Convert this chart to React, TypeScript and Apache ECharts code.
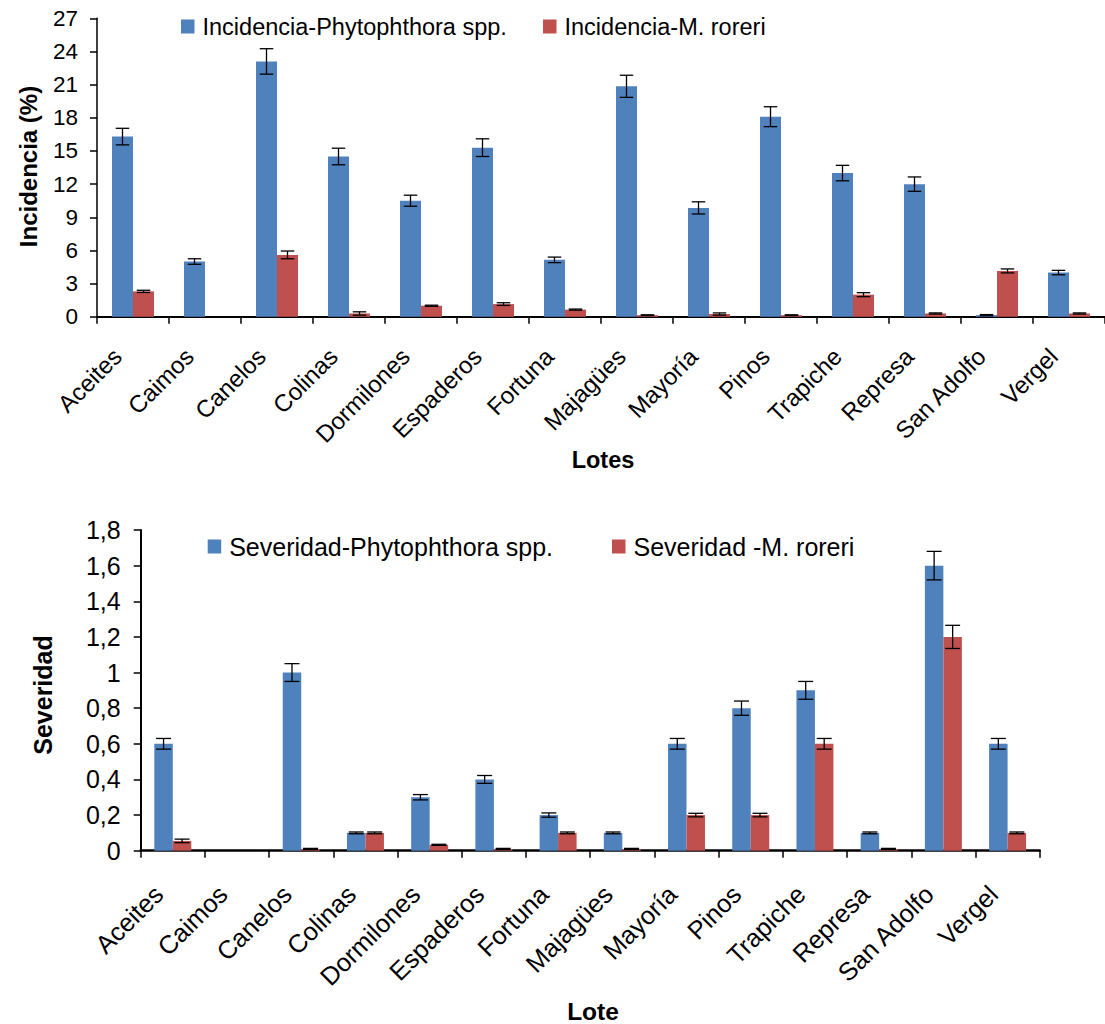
import React, { useEffect, useRef } from "react";
import * as echarts from "echarts";

const categories = ["Aceites", "Caimos", "Canelos", "Colinas", "Dormilones", "Espaderos", "Fortuna", "Majagües", "Mayoría", "Pinos", "Trapiche", "Represa", "San Adolfo", "Vergel"];

const incPhyt = [16.3, 5.0, 23.1, 14.5, 10.5, 15.3, 5.15, 20.85, 9.85, 18.1, 13.0, 12.0, 0.15, 4.0];
const incPhytErr = [0.75, 0.25, 1.15, 0.75, 0.5, 0.8, 0.25, 1.0, 0.55, 0.9, 0.7, 0.65, 0.05, 0.2];
const incMror = [2.3, 0, 5.6, 0.3, 1.0, 1.15, 0.65, 0.15, 0.25, 0.15, 2.0, 0.3, 4.15, 0.3];
const incMrorErr = [0.1, 0, 0.35, 0.15, 0.05, 0.12, 0.05, 0.03, 0.1, 0.03, 0.18, 0.05, 0.18, 0.05];

const sevPhyt = [0.6, 0, 1.0, 0.1, 0.3, 0.4, 0.2, 0.1, 0.6, 0.8, 0.9, 0.1, 1.6, 0.6];
const sevPhytErr = [0.03, 0, 0.05, 0.005, 0.015, 0.022, 0.012, 0.005, 0.03, 0.04, 0.05, 0.005, 0.08, 0.03];
const sevMror = [0.055, 0, 0.01, 0.1, 0.033, 0.01, 0.1, 0.01, 0.2, 0.2, 0.6, 0.01, 1.2, 0.1];
const sevMrorErr = [0.01, 0, 0.003, 0.005, 0.003, 0.003, 0.005, 0.003, 0.01, 0.01, 0.03, 0.003, 0.065, 0.005];

const incTicks = { min: 0, max: 27, interval: 3 };
const sevTicks = { min: 0, max: 1.8, interval: 0.2 };

const BLUE = "#4F81BD";
const RED = "#C0504D";
const FONT = "Liberation Sans, Arial, sans-serif";

const names = {
  incP: "Incidencia-Phytophthora spp.",
  incM: "Incidencia-M. roreri",
  sevP: "Severidad-Phytophthora spp.",
  sevM: "Severidad -M. roreri",
};

function errSeries(name: string, vals: number[], errs: number[], gridIdx: number, offset: number, capW: number) {
  return {
    type: "custom",
    name,
    xAxisIndex: gridIdx,
    yAxisIndex: gridIdx,
    z: 5,
    encode: { x: 0, y: 1 },
    data: vals.map((v, i) => [i, v, errs[i]]),
    renderItem: (params: any, api: any) => {
      const idx = api.value(0);
      const v = api.value(1);
      const e = api.value(2);
      if (v === 0 && e === 0) return { type: "group", children: [] };
      const c = api.coord([idx, v]);
      const t = api.coord([idx, v + e]);
      const b = api.coord([idx, v - e]);
      const x = c[0] + offset;
      const style = { stroke: "#000", lineWidth: 1.3 };
      return {
        type: "group",
        children: [
          { type: "line", shape: { x1: x, y1: t[1], x2: x, y2: b[1] }, style },
          { type: "line", shape: { x1: x - capW / 2, y1: t[1], x2: x + capW / 2, y2: t[1] }, style },
          { type: "line", shape: { x1: x - capW / 2, y1: b[1], x2: x + capW / 2, y2: b[1] }, style },
        ],
      };
    },
  };
}

export default function App() {
  const ref = useRef<HTMLDivElement>(null);
  useEffect(() => {
    if (!ref.current) return;
    const chart = echarts.init(ref.current, null, { renderer: "svg" });
    const topBW = 21;
    const botBW = 18.5;
    const axisLine = (w: number) => ({ show: true, lineStyle: { color: "#000", width: w } });
    const legendCommon = (fs: number) => ({
      orient: "horizontal",
      padding: 0,
      icon: "rect",
      itemWidth: 13.5,
      itemHeight: 14,
      selectedMode: false,
      textStyle: { fontFamily: FONT, fontSize: fs, color: "#000", lineHeight: 26, padding: [0, 0, 0, 3] },
    });
    const option: any = {
      animation: false,
      backgroundColor: "#fff",
      grid: [
        { left: 97, top: 18.3, width: 1013, height: 298.5 },
        { left: 140.7, top: 530, width: 899, height: 320.7 },
      ],
      legend: [
        { ...legendCommon(23.5), data: [names.incP], left: 181, top: 13.5 },
        { ...legendCommon(23.5), data: [names.incM], left: 543, top: 13.5 },
        { ...legendCommon(25), data: [names.sevP], left: 207.7, top: 533.5 },
        { ...legendCommon(25), data: [names.sevM], left: 612, top: 533.5 },
      ],
      xAxis: [
        {
          type: "category",
          gridIndex: 0,
          data: categories,
          axisLine: axisLine(2),
          axisTick: { show: true, length: 7, lineStyle: { color: "#000", width: 1.5 } },
          axisLabel: { interval: 0, rotate: 45, margin: 20, padding: [0, 22, 0, 0], fontFamily: FONT, fontSize: 24, color: "#000" },
          splitLine: { show: false },
        },
        {
          type: "category",
          gridIndex: 1,
          data: categories,
          axisLine: axisLine(2.5),
          axisTick: { show: true, length: 7, lineStyle: { color: "#000", width: 1.5 } },
          axisLabel: { interval: 0, rotate: 45, margin: 25, padding: [0, 20, 0, 0], fontFamily: FONT, fontSize: 25.5, color: "#000" },
          splitLine: { show: false },
        },
      ],
      yAxis: [
        {
          type: "value",
          gridIndex: 0,
          ...incTicks,
          axisLine: axisLine(1.5),
          axisTick: { show: true, length: 7, lineStyle: { color: "#000", width: 1.5 } },
          axisLabel: { margin: 19, fontFamily: FONT, fontSize: 22.5, color: "#000" },
          splitLine: { show: false },
        },
        {
          type: "value",
          gridIndex: 1,
          ...sevTicks,
          axisLine: axisLine(2),
          axisTick: { show: true, length: 7, lineStyle: { color: "#000", width: 1.5 } },
          axisLabel: {
            margin: 20,
            fontFamily: FONT,
            fontSize: 25,
            color: "#000",
            formatter: (v: number) => String(parseFloat(v.toFixed(1))).replace(".", ","),
          },
          splitLine: { show: false },
        },
      ],
      graphic: [
        { type: "text", x: 28, y: 166.5, rotation: Math.PI / 2, style: { text: "Incidencia (%)", fontFamily: FONT, fontSize: 24, fontWeight: "bold", fill: "#000", textAlign: "center", textVerticalAlign: "middle" } },
        { type: "text", x: 603, y: 460, style: { text: "Lotes", fontFamily: FONT, fontSize: 23.5, fontWeight: "bold", fill: "#000", textAlign: "center", textVerticalAlign: "middle" } },
        { type: "text", x: 42.5, y: 695, rotation: Math.PI / 2, style: { text: "Severidad", fontFamily: FONT, fontSize: 25, fontWeight: "bold", fill: "#000", textAlign: "center", textVerticalAlign: "middle" } },
        { type: "text", x: 593, y: 1011, style: { text: "Lote", fontFamily: FONT, fontSize: 24.5, fontWeight: "bold", fill: "#000", textAlign: "center", textVerticalAlign: "middle" } },
      ],
      series: [
        { type: "bar", name: names.incP, xAxisIndex: 0, yAxisIndex: 0, data: incPhyt, barWidth: topBW, barGap: "0%", itemStyle: { color: BLUE } },
        { type: "bar", name: names.incM, xAxisIndex: 0, yAxisIndex: 0, data: incMror, barWidth: topBW, barGap: "0%", itemStyle: { color: RED } },
        { type: "bar", name: names.sevP, xAxisIndex: 1, yAxisIndex: 1, data: sevPhyt, barWidth: botBW, barGap: "0%", itemStyle: { color: BLUE } },
        { type: "bar", name: names.sevM, xAxisIndex: 1, yAxisIndex: 1, data: sevMror, barWidth: botBW, barGap: "0%", itemStyle: { color: RED } },
        errSeries("errIncP", incPhyt, incPhytErr, 0, -topBW / 2, 13.5),
        errSeries("errIncM", incMror, incMrorErr, 0, topBW / 2, 13.5),
        errSeries("errSevP", sevPhyt, sevPhytErr, 1, -botBW / 2, 15),
        errSeries("errSevM", sevMror, sevMrorErr, 1, botBW / 2, 15),
      ],
    };
    chart.setOption(option);
    return () => chart.dispose();
  }, []);
  return <div ref={ref} style={{ position: "absolute", left: 0, top: 0, width: 1105, height: 1024 }} />;
}
